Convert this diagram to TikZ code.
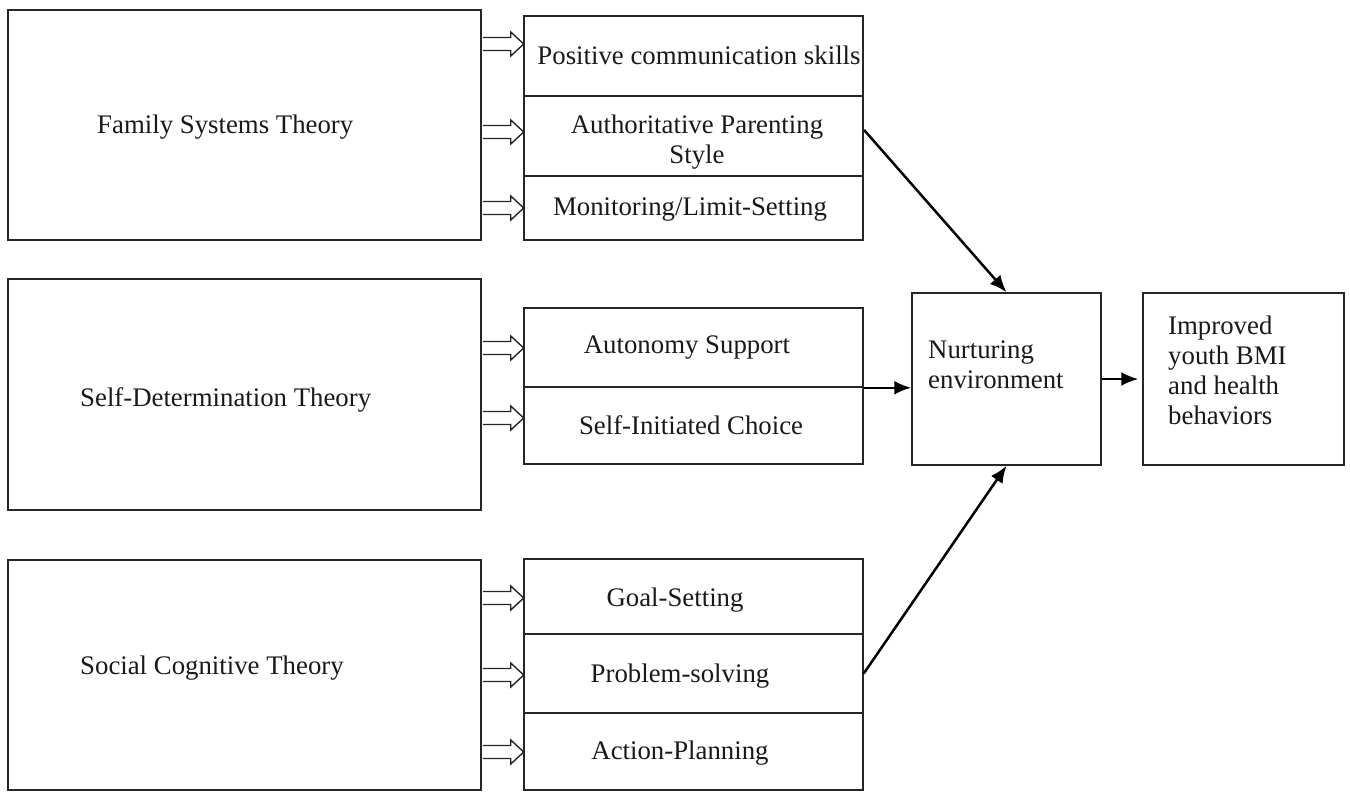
\documentclass[tikz,border=0pt]{standalone}
\usepackage{fontspec}
\setmainfont{Liberation Serif}
\usetikzlibrary{arrows.meta,calc}
\begin{document}
\begin{tikzpicture}[x=1pt,y=-1pt,
  box/.style={draw=black!85,line width=1.5pt,rectangle,inner sep=0pt},
  txt/.style={inner sep=0pt,font=\fontsize{26.8}{30}\selectfont,text=black!90},
  mtxt/.style={txt,align=center},
  flow/.style={draw=black,line width=2.5pt,-{Latex[length=17pt,width=14pt]}},
  hollow/.style={draw=black!85,line width=1.4pt,fill=white,line join=miter}]
\useasboundingbox (0,0) rectangle (1350,792);
% left theory boxes
\node[box,minimum width=473pt,minimum height=230pt] (fst) at (244.5,125) {};
\node[box,minimum width=473pt,minimum height=231pt] (sdt) at (244.5,394.5) {};
\node[box,minimum width=473pt,minimum height=230pt] (sct) at (244.5,675) {};
\node[txt,anchor=west] (fstt) at (97,127) {Family Systems Theory};
\node[txt,anchor=west] (sdtt) at (80,400) {Self-Determination Theory};
\node[txt,anchor=west] (sctt) at (80,668) {Social Cognitive Theory};
% middle boxes
\node[box,line width=2.2pt,minimum width=339pt,minimum height=80pt] (m1) at (693.5,56) {};
\node[box,line width=2.2pt,minimum width=339pt,minimum height=80pt] (m2) at (693.5,136) {};
\node[box,minimum width=339pt,minimum height=64pt] (m3) at (693.5,208) {};
\node[box,minimum width=339pt,minimum height=79pt] (m4) at (693.5,347.5) {};
\node[box,minimum width=339pt,minimum height=77pt] (m5) at (693.5,425.5) {};
\node[box,minimum width=339pt,minimum height=75pt] (m6) at (693.5,596.5) {};
\node[box,minimum width=339pt,minimum height=79pt] (m7) at (693.5,673.5) {};
\node[box,minimum width=339pt,minimum height=77pt] (m8) at (693.5,751.5) {};
\node[mtxt] (m1t) at (699,55) {Positive communication skills};
\node[mtxt] (m2t) at (697,142) {Authoritative Parenting\\Style};
\node[mtxt] (m3t) at (690,210) {Monitoring/Limit-Setting};
\node[mtxt] (m4t) at (687,348) {Autonomy Support};
\node[mtxt] (m5t) at (691,425) {Self-Initiated Choice};
\node[mtxt] (m6t) at (675,600) {Goal-Setting};
\node[mtxt] (m7t) at (680,676) {Problem-solving};
\node[mtxt] (m8t) at (680,753) {Action-Planning};
% right boxes
\node[box,minimum width=189pt,minimum height=172pt] (nur) at (1006.5,379) {};
\node[box,minimum width=201pt,minimum height=172pt] (imp) at (1243.5,379) {};
\node[txt,anchor=west,align=left] (nurt) at (928,365) {Nurturing\\environment};
\node[txt,anchor=west,align=left] (impt) at (1168,370) {Improved\\youth BMI\\and health\\behaviors};
% hollow arrows
\foreach \src/\yy in {fst/44, fst/132, fst/208, sdt/348, sdt/418, sct/598, sct/675, sct/752}{
  \path (\src.east) coordinate (hs);
  \draw[hollow] ($(hs|-0,\yy)+(1,-6.5)$) -- ++(28,0) -- ++(0,-5.5) -- ++(13,12) -- ++(-13,12) -- ++(0,-5.5) -- ++(-28,0);
}
% flow arrows
\draw[flow] ([yshift=6pt]m2.east) -- (nur.north);
\draw[flow] (m4.south east) -- (m4.south east -| nur.west);
\draw[flow] (m7.east) -- (nur.south);
\draw[flow,shorten >=4pt] (nur.east) -- (imp.west);
\end{tikzpicture}
\end{document}
